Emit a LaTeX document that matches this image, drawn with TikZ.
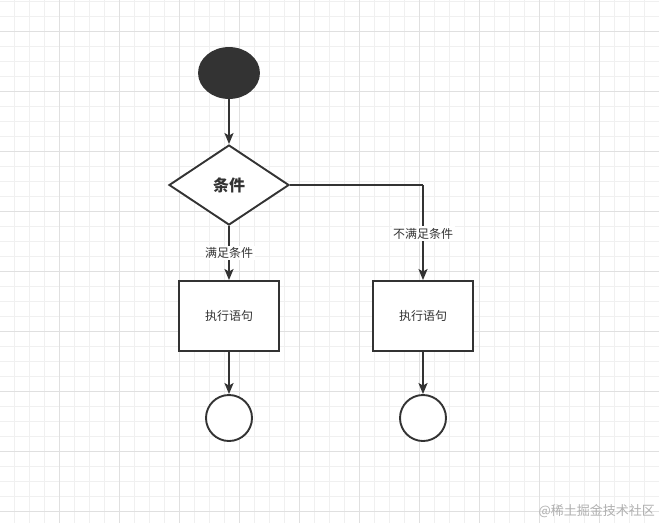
\documentclass[tikz,border=0pt]{standalone}
\usepackage{fontspec}
\setmainfont{Noto Sans CJK SC}
\newfontfamily\cjk{Noto Sans CJK SC}
\usetikzlibrary{shapes.geometric,arrows.meta}
\definecolor{ink}{HTML}{333333}
\definecolor{gridminor}{HTML}{F0F0F0}
\definecolor{gridmajor}{HTML}{E0E0E0}
\definecolor{wm}{HTML}{B0B0B0}
\tikzset{
  conn/.style={draw=ink, line width=1.9pt, -{Stealth[length=11pt,width=9pt,inset=2.5pt]}},
  plain/.style={draw=ink, line width=1.9pt},
  stmt/.style={draw=ink, line width=1.9pt, fill=white, minimum width=100pt, minimum height=70pt, inner sep=0pt, font=\fontsize{12}{14}\selectfont\color{ink}},
  endc/.style={draw=ink, line width=1.9pt, fill=white, circle, minimum size=46pt, inner sep=0pt},
  lbl/.style={fill=white, inner sep=1.5pt, font=\fontsize{12}{14}\selectfont\color{ink}},
}
\begin{document}
\begin{tikzpicture}[x=1pt,y=-1pt]
\useasboundingbox (0,0) rectangle (659,523);
\fill[white] (0,0) rectangle (659,523);
% grid
\foreach \x in {-0.7,14.3,...,660} \draw[gridminor, line width=0.8pt] (\x,0) -- (\x,523);
\foreach \y in {1,16,...,524} \draw[gridminor, line width=0.8pt] (0,\y) -- (659,\y);
\foreach \x in {59.3,119.3,...,660} \draw[gridmajor, line width=0.8pt] (\x,0) -- (\x,523);
\foreach \y in {31,91,...,524} \draw[gridmajor, line width=0.8pt] (0,\y) -- (659,\y);
% nodes
\node[ellipse, draw=ink, line width=1.9pt, fill=ink, minimum width=60pt, minimum height=50pt, inner sep=0pt] (start) at (229,73) {};
\node[diamond, draw=ink, line width=1.9pt, fill=white, minimum width=120pt, minimum height=80pt, inner sep=0pt, aspect=1.5, font=\fontsize{16}{18}\selectfont\bfseries\color{ink}] (cond) at (229,185) {条件};
\node[stmt] (s1) at (229,316) {执行语句};
\node[stmt] (s2) at (423,316) {执行语句};
\node[endc] (e1) at (229,418) {};
\node[endc] (e2) at (423,418) {};
\coordinate (bend) at (423,185);
% connectors
\draw[conn] (start) -- (cond);
\draw[conn] (cond.south) -- node[lbl, pos=0.5] {满足条件} (s1.north);
\draw[plain] (cond.east) -- (bend);
\draw[conn] (bend) -- node[lbl, pos=0.51] {不满足条件} (s2.north);
\draw[conn] (s1) -- (e1);
\draw[conn] (s2) -- (e2);
% watermark
\node[anchor=east, font=\fontsize{13}{15}\selectfont\color{wm}, inner sep=0pt] (wmark) at (655,511) {@稀土掘金技术社区};
\end{tikzpicture}
\end{document}
